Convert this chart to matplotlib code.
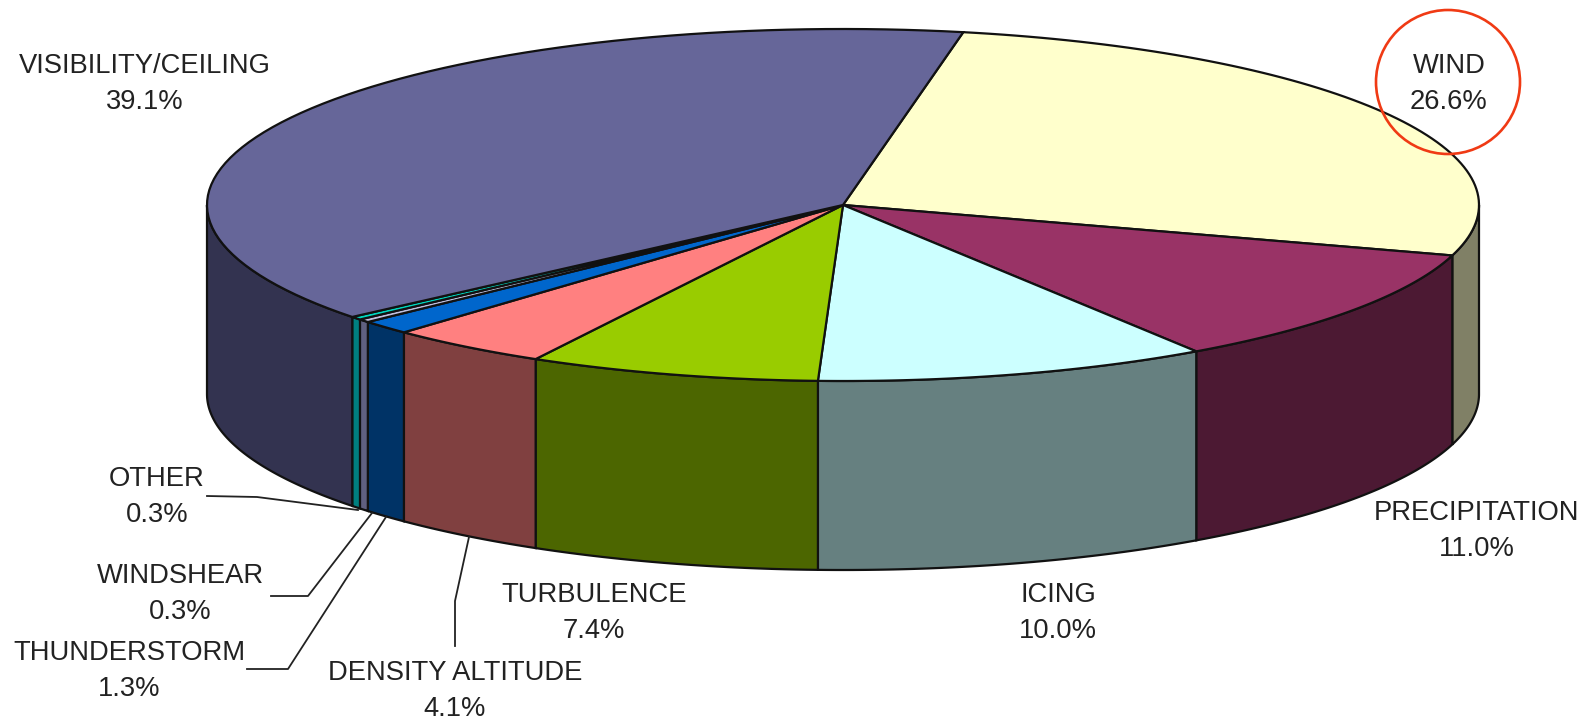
import numpy as np
from matplotlib import pyplot as plt
from matplotlib.patches import Polygon, Circle

names = ["WIND", "PRECIPITATION", "ICING", "TURBULENCE", "DENSITY ALTITUDE",
         "THUNDERSTORM", "WINDSHEAR", "OTHER", "VISIBILITY/CEILING"]
values = [26.6, 11.0, 10.0, 7.4, 4.1, 1.3, 0.3, 0.3, 39.1]
top_colors = ["#FFFFCC", "#993366", "#CCFFFF", "#99CC00", "#FF8080",
              "#0066CC", "#C0C0E0", "#00D8C0", "#666699"]
wall_colors = ["#808066", "#4C1933", "#668080", "#4C6600", "#804040",
               "#003366", "#606080", "#008080", "#333350"]

# pie geometry, in image pixels
cx, cy, a, b = 843, 205, 636, 176
depth = 189
start = 79.1

# label centres
label_pos = [(1449, 84), (1477, 531), (1058, 613), (594, 613), (455, 691),
             (129, 671), (180, 594), (157, 497), (145, 84)]

# leader lines
leaders = [
    [(207, 496), (257, 497), (358, 510)],
    [(271, 596), (308, 596), (372, 513)],
    [(247, 669), (288, 669), (386, 517)],
    [(455, 646), (455, 601), (469, 537)],
]

plt.rcParams['font.family'] = ['Liberation Sans', 'DejaVu Sans']

fig = plt.figure(figsize=(15.83, 7.21), dpi=100)
ax = fig.add_axes([0, 0, 1, 1])
ax.set_xlim(0, 1583)
ax.set_ylim(721, 0)
ax.axis('off')


def rim(a1, a2, n=80):
    t = np.radians(np.linspace(a1, a2, n))
    return cx + a * np.cos(t), cy - b * np.sin(t)


# labels add up to 100.1, the last slice just closes the circle
ends = start - np.cumsum(values) * 3.6
ends[-1] = start - 360
begins = np.r_[start, ends[:-1]]

# side walls first, only the part facing the viewer
for hi, lo, col in zip(begins, ends, wall_colors):
    for k in (0, -360):
        a_lo = max(lo - k, 180)
        a_hi = min(hi - k, 360)
        if a_hi <= a_lo:
            a_lo = max(lo - k - 360, -180)
            a_hi = min(hi - k - 360, 0)
        if a_hi > a_lo:
            x, y = rim(a_lo, a_hi)
            xy = np.r_[np.c_[x, y], np.c_[x[::-1], y[::-1] + depth]]
            ax.add_patch(Polygon(xy, closed=True, fc=col, ec='#111111', lw=1.6, zorder=2))
            break

# top face
for hi, lo, col in zip(begins, ends, top_colors):
    x, y = rim(lo, hi)
    xy = np.r_[[[cx, cy]], np.c_[x, y]]
    ax.add_patch(Polygon(xy, closed=True, fc=col, ec='#111111', lw=1.6, zorder=3))

for name, val, (x, y) in zip(names, values, label_pos):
    ax.text(x, y, f"{name}\n{val:.1f}%", ha='center', va='center', fontsize=19.7,
            color='#222222', linespacing=1.5, zorder=5)

for pts in leaders:
    ax.plot([p[0] for p in pts], [p[1] for p in pts], color='#222222', lw=1.3, zorder=4)

ax.add_patch(Circle((1448, 82), 72, fc='none', ec='#F03A14', lw=1.9, zorder=6))

plt.savefig('out.png', dpi=100)
plt.close()
